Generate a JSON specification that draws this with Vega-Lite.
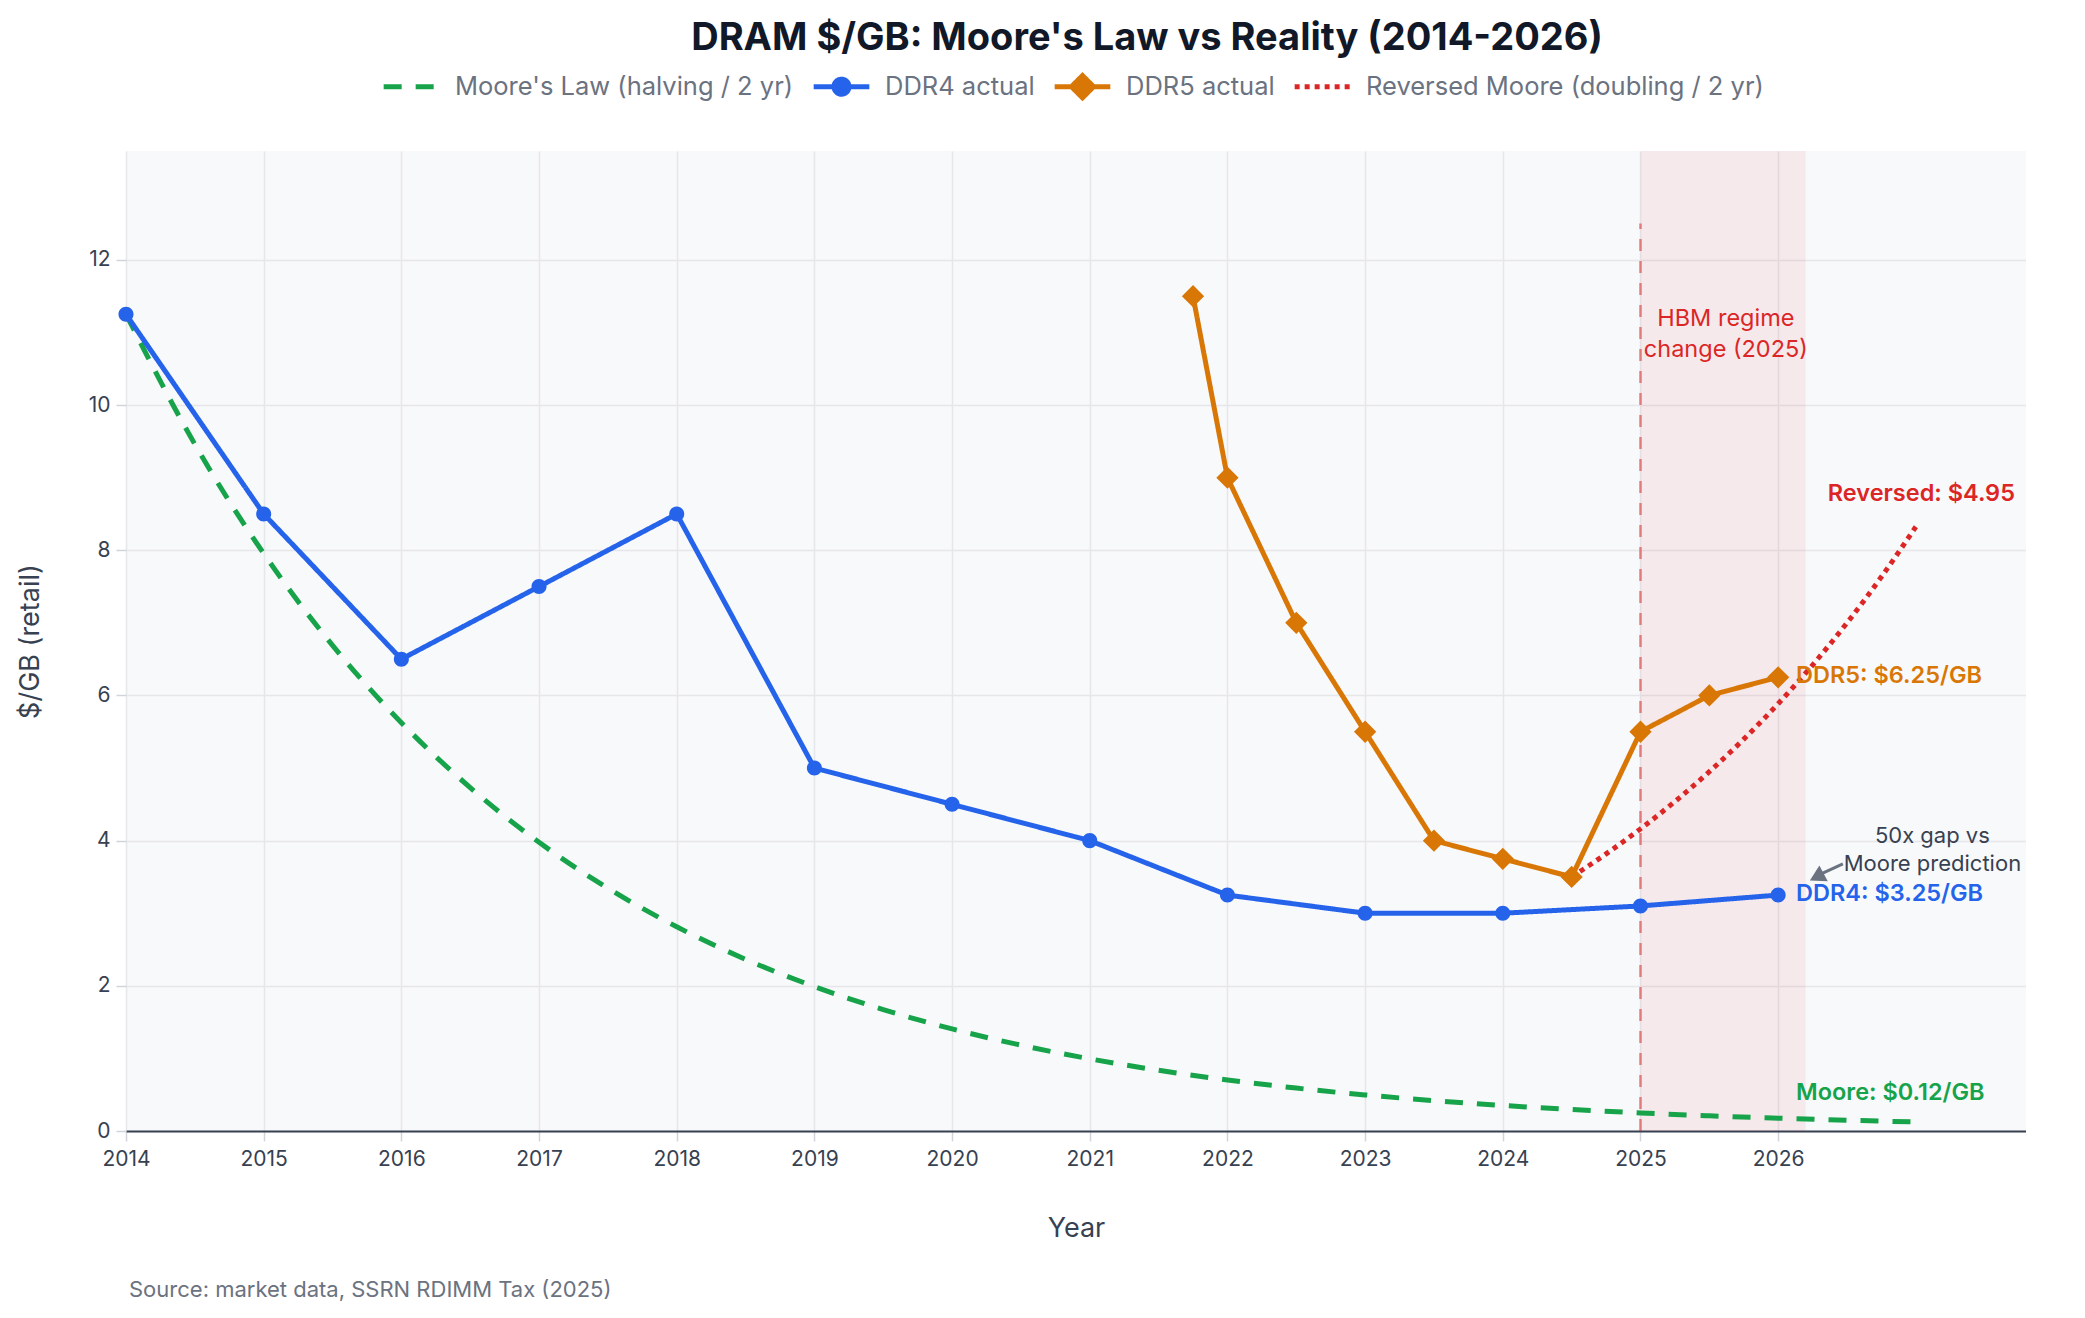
{
  "$schema": "https://vega.github.io/schema/vega-lite/v6.json",
  "padding": {"left": 16, "top": 20, "right": 0, "bottom": 0},
  "background": "white",
  "title": {
    "text": "DRAM $/GB: Moore's Law vs Reality (2014-2026)",
    "font": "Inter",
    "fontSize": 38,
    "fontWeight": "bold",
    "color": "#111827",
    "anchor": "middle",
    "frame": "group",
    "offset": 1,
    "dx": 71,
    "dy": 3
  },
  "datasets": {
    "prices": [
      {"series": "Moore's Law (halving / 2 yr)", "year": 2014, "price": 11.25},
      {"series": "Moore's Law (halving / 2 yr)", "year": 2014.5, "price": 9.46},
      {"series": "Moore's Law (halving / 2 yr)", "year": 2015, "price": 7.955},
      {"series": "Moore's Law (halving / 2 yr)", "year": 2015.5, "price": 6.69},
      {"series": "Moore's Law (halving / 2 yr)", "year": 2016, "price": 5.625},
      {"series": "Moore's Law (halving / 2 yr)", "year": 2016.5, "price": 4.73},
      {"series": "Moore's Law (halving / 2 yr)", "year": 2017, "price": 3.977},
      {"series": "Moore's Law (halving / 2 yr)", "year": 2017.5, "price": 3.345},
      {"series": "Moore's Law (halving / 2 yr)", "year": 2018, "price": 2.813},
      {"series": "Moore's Law (halving / 2 yr)", "year": 2018.5, "price": 2.365},
      {"series": "Moore's Law (halving / 2 yr)", "year": 2019, "price": 1.989},
      {"series": "Moore's Law (halving / 2 yr)", "year": 2019.5, "price": 1.672},
      {"series": "Moore's Law (halving / 2 yr)", "year": 2020, "price": 1.406},
      {"series": "Moore's Law (halving / 2 yr)", "year": 2020.5, "price": 1.182},
      {"series": "Moore's Law (halving / 2 yr)", "year": 2021, "price": 0.994},
      {"series": "Moore's Law (halving / 2 yr)", "year": 2021.5, "price": 0.836},
      {"series": "Moore's Law (halving / 2 yr)", "year": 2022, "price": 0.703},
      {"series": "Moore's Law (halving / 2 yr)", "year": 2022.5, "price": 0.591},
      {"series": "Moore's Law (halving / 2 yr)", "year": 2023, "price": 0.497},
      {"series": "Moore's Law (halving / 2 yr)", "year": 2023.5, "price": 0.418},
      {"series": "Moore's Law (halving / 2 yr)", "year": 2024, "price": 0.352},
      {"series": "Moore's Law (halving / 2 yr)", "year": 2024.5, "price": 0.296},
      {"series": "Moore's Law (halving / 2 yr)", "year": 2025, "price": 0.249},
      {"series": "Moore's Law (halving / 2 yr)", "year": 2025.5, "price": 0.209},
      {"series": "Moore's Law (halving / 2 yr)", "year": 2026, "price": 0.176},
      {"series": "Moore's Law (halving / 2 yr)", "year": 2026.5, "price": 0.148},
      {"series": "Moore's Law (halving / 2 yr)", "year": 2027, "price": 0.124},
      {"series": "DDR4 actual", "year": 2014, "price": 11.25},
      {"series": "DDR4 actual", "year": 2015, "price": 8.5},
      {"series": "DDR4 actual", "year": 2016, "price": 6.5},
      {"series": "DDR4 actual", "year": 2017, "price": 7.5},
      {"series": "DDR4 actual", "year": 2018, "price": 8.5},
      {"series": "DDR4 actual", "year": 2019, "price": 5.0},
      {"series": "DDR4 actual", "year": 2020, "price": 4.5},
      {"series": "DDR4 actual", "year": 2021, "price": 4.0},
      {"series": "DDR4 actual", "year": 2022, "price": 3.25},
      {"series": "DDR4 actual", "year": 2023, "price": 3.0},
      {"series": "DDR4 actual", "year": 2024, "price": 3.0},
      {"series": "DDR4 actual", "year": 2025, "price": 3.1},
      {"series": "DDR4 actual", "year": 2026, "price": 3.25},
      {"series": "DDR5 actual", "year": 2021.75, "price": 11.5},
      {"series": "DDR5 actual", "year": 2022, "price": 9.0},
      {"series": "DDR5 actual", "year": 2022.5, "price": 7.0},
      {"series": "DDR5 actual", "year": 2023, "price": 5.5},
      {"series": "DDR5 actual", "year": 2023.5, "price": 4.0},
      {"series": "DDR5 actual", "year": 2024, "price": 3.75},
      {"series": "DDR5 actual", "year": 2024.5, "price": 3.5},
      {"series": "DDR5 actual", "year": 2025, "price": 5.5},
      {"series": "DDR5 actual", "year": 2025.5, "price": 6.0},
      {"series": "DDR5 actual", "year": 2026, "price": 6.25},
      {"series": "Reversed Moore (doubling / 2 yr)", "year": 2024.5, "price": 3.5},
      {"series": "Reversed Moore (doubling / 2 yr)", "year": 2024.75, "price": 3.817},
      {"series": "Reversed Moore (doubling / 2 yr)", "year": 2025, "price": 4.162},
      {"series": "Reversed Moore (doubling / 2 yr)", "year": 2025.25, "price": 4.539},
      {"series": "Reversed Moore (doubling / 2 yr)", "year": 2025.5, "price": 4.95},
      {"series": "Reversed Moore (doubling / 2 yr)", "year": 2025.75, "price": 5.398},
      {"series": "Reversed Moore (doubling / 2 yr)", "year": 2026, "price": 5.886},
      {"series": "Reversed Moore (doubling / 2 yr)", "year": 2026.25, "price": 6.419},
      {"series": "Reversed Moore (doubling / 2 yr)", "year": 2026.5, "price": 7.0},
      {"series": "Reversed Moore (doubling / 2 yr)", "year": 2026.75, "price": 7.634},
      {"series": "Reversed Moore (doubling / 2 yr)", "year": 2027, "price": 8.324}
    ],
    "endLabels": [
      {"series": "DDR5 actual", "year": 2026.13, "price": 6.27, "label": "DDR5: $6.25/GB"},
      {"series": "DDR4 actual", "year": 2026.13, "price": 3.26, "label": "DDR4: $3.25/GB"},
      {"series": "Moore's Law (halving / 2 yr)", "year": 2026.13, "price": 0.53, "label": "Moore: $0.12/GB"}
    ]
  },
  "config": {
    "font": "Inter",
    "view": {"fill": "#f8f9fb", "stroke": null},
    "axis": {
      "labelFont": "Inter",
      "labelFontSize": 21,
      "labelColor": "#374151",
      "labelFlush": false,
      "titleFont": "Inter",
      "titleFontSize": 27,
      "titleFontWeight": "normal",
      "titleColor": "#374151",
      "gridColor": "#e5e7eb",
      "gridWidth": 1.5,
      "tickColor": "#d1d5db",
      "tickWidth": 1.5,
      "tickSize": 10
    }
  },
  "vconcat": [
    {
      "name": "main",
      "width": 1900,
      "height": 980,
      "title": {
        "text": "Source: market data, SSRN RDIMM Tax (2025)",
        "orient": "bottom",
        "anchor": "start",
        "frame": "group",
        "font": "Inter",
        "fontSize": 22,
        "fontWeight": "normal",
        "color": "#6b7280",
        "offset": 39,
        "dx": 3
      },
      "layer": [
        {
          "data": {"values": [{"start": 2025, "end": 2026.2, "lo": 0, "hi": 13.5}]},
          "mark": {"type": "rect", "color": "#dc2626", "opacity": 0.075},
          "encoding": {
            "x": {
              "field": "start",
              "type": "quantitative",
              "scale": {"domain": [2014, 2027.8], "nice": false, "zero": false},
              "axis": {
                "title": "Year",
                "values": [2014, 2015, 2016, 2017, 2018, 2019, 2020, 2021, 2022, 2023, 2024, 2025, 2026],
                "format": "d",
                "domainColor": "#374151",
                "domainWidth": 2,
                "labelPadding": 7,
                "titlePadding": 46
              }
            },
            "x2": {"field": "end"},
            "y": {
              "field": "lo",
              "type": "quantitative",
              "scale": {"domain": [0, 13.5], "nice": false},
              "axis": {
                "title": "$/GB (retail)",
                "values": [0, 2, 4, 6, 8, 10, 12],
                "format": "d",
                "domain": false,
                "labelPadding": 6,
                "titlePadding": 44
              }
            },
            "y2": {"field": "hi"}
          }
        },
        {
          "data": {"values": [{"year": 2025, "lo": 0, "hi": 12.5}]},
          "mark": {"type": "rule", "color": "#dc2626", "opacity": 0.55, "strokeWidth": 2.5, "strokeDash": [12, 10]},
          "encoding": {
            "x": {"field": "year", "type": "quantitative"},
            "y": {"field": "lo", "type": "quantitative"},
            "y2": {"field": "hi"}
          }
        },
        {
          "data": {"name": "prices"},
          "transform": [{"filter": "datum.series === \"Moore's Law (halving / 2 yr)\""}],
          "mark": {"type": "line", "strokeWidth": 5, "interpolate": "monotone"},
          "encoding": {
            "x": {"field": "year", "type": "quantitative"},
            "y": {"field": "price", "type": "quantitative"},
            "color": {
              "field": "series",
              "type": "nominal",
              "scale": {
                "domain": ["Moore's Law (halving / 2 yr)", "DDR4 actual", "DDR5 actual", "Reversed Moore (doubling / 2 yr)"],
                "range": ["#16a34a", "#2563eb", "#d97706", "#dc2626"]
              },
              "legend": {
                "title": null,
                "orient": "none",
                "direction": "horizontal",
                "legendX": 255,
                "legendY": -95,
                "labelFont": "Inter",
                "labelFontSize": 25.5,
                "labelColor": "#6b7280",
                "labelLimit": 0,
                "labelOffset": 13,
                "columnPadding": 9,
                "symbolSize": 3100,
                "symbolStrokeWidth": 5,
                "encode": {
                  "symbols": {
                    "update": {
                      "shape": {"scale": "main_shape", "field": "value"},
                      "strokeDash": {"scale": "main_strokeDash", "field": "value"},
                      "fill": {"scale": "main_color", "field": "value"},
                      "stroke": {"scale": "main_color", "field": "value"},
                      "strokeWidth": {"value": 5},
                      "opacity": {"value": 1}
                    }
                  }
                }
              }
            },
            "strokeDash": {
              "field": "series",
              "type": "nominal",
              "scale": {
                "domain": ["Moore's Law (halving / 2 yr)", "DDR4 actual", "DDR5 actual", "Reversed Moore (doubling / 2 yr)"],
                "range": [[18, 14], [1, 0], [1, 0], [5, 5]]
              },
              "legend": null
            }
          }
        },
        {
          "data": {"name": "prices"},
          "transform": [{"filter": "datum.series === 'DDR4 actual' || datum.series === 'DDR5 actual'"}],
          "mark": {"type": "line", "strokeWidth": 5},
          "encoding": {
            "x": {"field": "year", "type": "quantitative"},
            "y": {"field": "price", "type": "quantitative"},
            "color": {"field": "series", "type": "nominal"},
            "strokeDash": {"field": "series", "type": "nominal", "legend": null}
          }
        },
        {
          "data": {"name": "prices"},
          "transform": [{"filter": "datum.series === 'Reversed Moore (doubling / 2 yr)'"}],
          "mark": {"type": "line", "strokeWidth": 5, "interpolate": "monotone"},
          "encoding": {
            "x": {"field": "year", "type": "quantitative"},
            "y": {"field": "price", "type": "quantitative"},
            "color": {"field": "series", "type": "nominal"},
            "strokeDash": {"field": "series", "type": "nominal", "legend": null}
          }
        },
        {
          "data": {"name": "prices"},
          "transform": [{"filter": "datum.series === 'DDR4 actual' || datum.series === 'DDR5 actual'"}],
          "mark": {"type": "point", "filled": true, "opacity": 1, "size": 3100, "strokeWidth": 0},
          "encoding": {
            "x": {"field": "year", "type": "quantitative"},
            "y": {"field": "price", "type": "quantitative"},
            "color": {"field": "series", "type": "nominal"},
            "shape": {
              "field": "series",
              "type": "nominal",
              "scale": {
                "domain": ["Moore's Law (halving / 2 yr)", "DDR4 actual", "DDR5 actual", "Reversed Moore (doubling / 2 yr)"],
                "range": [
                  "M-1,0H1M0,-0.4L0,-0.4M0,0.4L0,0.4",
                  "M-1,0H1M0,-0.4L0,-0.4M0,0.4L0,0.4M-0.27,0A0.27,0.27,0,1,1,0.27,0A0.27,0.27,0,1,1,-0.27,0Z",
                  "M-1,0H1M0,-0.4L0.4,0L0,0.4L-0.4,0Z",
                  "M-1,0H1M0,-0.4L0,-0.4M0,0.4L0,0.4"
                ]
              },
              "legend": null
            }
          }
        },
        {
          "data": {"name": "endLabels"},
          "mark": {"type": "text", "align": "left", "baseline": "middle", "font": "Inter", "fontSize": 23.5, "fontWeight": 600},
          "encoding": {
            "x": {"field": "year", "type": "quantitative"},
            "y": {"field": "price", "type": "quantitative"},
            "text": {"field": "label"},
            "color": {"field": "series", "type": "nominal"}
          }
        },
        {
          "data": {"values": [{"series": "Reversed Moore (doubling / 2 yr)", "year": 2027.04, "price": 8.78, "label": "Reversed: $4.95"}]},
          "mark": {"type": "text", "align": "center", "baseline": "middle", "font": "Inter", "fontSize": 23.5, "fontWeight": 600},
          "encoding": {
            "x": {"field": "year", "type": "quantitative"},
            "y": {"field": "price", "type": "quantitative"},
            "text": {"field": "label"},
            "color": {"field": "series", "type": "nominal"}
          }
        },
        {
          "data": {"values": [{"year": 2025.62, "price": 11.19, "label": ["HBM regime", "change (2025)"]}]},
          "mark": {"type": "text", "align": "center", "baseline": "middle", "font": "Inter", "fontSize": 23.5, "lineHeight": 31, "color": "#dc2626"},
          "encoding": {
            "x": {"field": "year", "type": "quantitative"},
            "y": {"field": "price", "type": "quantitative"},
            "text": {"field": "label"}
          }
        },
        {
          "data": {"values": [{"year": 2027.12, "price": 4.07, "label": ["50x gap vs", "Moore prediction"]}]},
          "mark": {"type": "text", "align": "center", "baseline": "middle", "font": "Inter", "fontSize": 22, "lineHeight": 28, "color": "#374151"},
          "encoding": {
            "x": {"field": "year", "type": "quantitative"},
            "y": {"field": "price", "type": "quantitative"},
            "text": {"field": "label"}
          }
        },
        {
          "data": {"values": [{"x0": 2026.47, "y0": 3.68, "x1": 2026.32, "y1": 3.55}]},
          "mark": {"type": "rule", "color": "#6b7280", "strokeWidth": 3},
          "encoding": {
            "x": {"field": "x0", "type": "quantitative"},
            "y": {"field": "y0", "type": "quantitative"},
            "x2": {"field": "x1"},
            "y2": {"field": "y1"}
          }
        },
        {
          "data": {"values": [{"x": 2026.28, "y": 3.5}]},
          "mark": {"type": "point", "shape": "triangle-up", "filled": true, "color": "#6b7280", "opacity": 1, "size": 320, "angle": 242},
          "encoding": {
            "x": {"field": "x", "type": "quantitative"},
            "y": {"field": "y", "type": "quantitative"}
          }
        }
      ]
    }
  ]
}
